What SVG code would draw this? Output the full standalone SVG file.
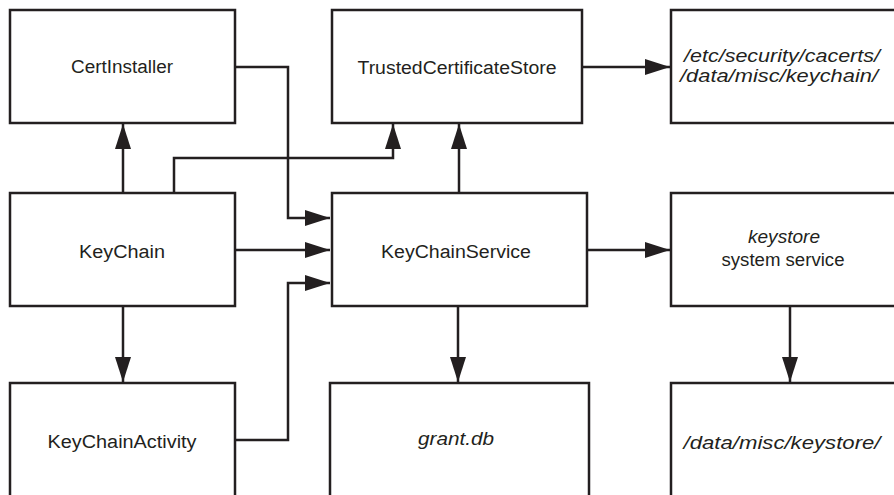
<svg xmlns="http://www.w3.org/2000/svg" width="894" height="495" viewBox="0 0 894 495">
<defs>
<style>
.box{fill:#fff;stroke:#231f20;stroke-width:2.5}
.lbl{font-family:"Liberation Sans","DejaVu Sans",sans-serif;font-size:18px;fill:#231f20;text-anchor:middle}
.it{font-style:italic}
.con{fill:none;stroke:#231f20;stroke-width:2.5;marker-end:url(#ah)}
</style>
<marker id="ah" markerUnits="userSpaceOnUse" markerWidth="26" markerHeight="16" refX="25" refY="8" orient="auto">
<path d="M0,0 L25,8 L0,16 z" fill="#231f20"/>
</marker>
</defs>
<rect width="894" height="495" fill="#fff"/>
<g id="connectors">
<polyline class="con" points="235,67 288,67 288,218 330,218"/>
<polyline class="con" points="235,250 330,250"/>
<polyline class="con" points="235,440 288,440 288,283 330,283"/>
<polyline class="con" points="123,193 123,124"/>
<polyline class="con" points="174,193 174,158 393,158 393,124"/>
<polyline class="con" points="459,193 459,124"/>
<polyline class="con" points="582,67 670,67"/>
<polyline class="con" points="587,250 670,250"/>
<polyline class="con" points="458,306 458,382"/>
<polyline class="con" points="790,306 790,382"/>
<polyline class="con" points="123,306 123,382"/>
</g>
<g id="certinstaller">
<rect class="box" x="10" y="10" width="225" height="113"/>
<text class="lbl" x="122" y="73" textLength="102" lengthAdjust="spacingAndGlyphs">CertInstaller</text>
</g>
<g id="trustedcertificatestore">
<rect class="box" x="332" y="10" width="250" height="113"/>
<text class="lbl" x="457" y="74" textLength="199" lengthAdjust="spacingAndGlyphs">TrustedCertificateStore</text>
</g>
<g id="cacerts">
<rect class="box" x="671" y="10" width="240" height="113"/>
<text class="lbl it" x="782" y="62" textLength="196" lengthAdjust="spacingAndGlyphs">/etc/security/cacerts/</text>
<text class="lbl it" x="779" y="82" textLength="198" lengthAdjust="spacingAndGlyphs">/data/misc/keychain/</text>
</g>
<g id="keychain">
<rect class="box" x="10" y="193" width="225" height="113"/>
<text class="lbl" x="122" y="258" textLength="86" lengthAdjust="spacingAndGlyphs">KeyChain</text>
</g>
<g id="keychainservice">
<rect class="box" x="332" y="193" width="255" height="113"/>
<text class="lbl" x="456" y="258" textLength="150" lengthAdjust="spacingAndGlyphs">KeyChainService</text>
</g>
<g id="keystore">
<rect class="box" x="671" y="193" width="240" height="113"/>
<text class="lbl it" x="784" y="243" textLength="72" lengthAdjust="spacingAndGlyphs">keystore</text>
<text class="lbl" x="783" y="266" textLength="123" lengthAdjust="spacingAndGlyphs">system service</text>
</g>
<g id="keychainactivity">
<rect class="box" x="10" y="383" width="225" height="130"/>
<text class="lbl" x="122" y="448" textLength="149" lengthAdjust="spacingAndGlyphs">KeyChainActivity</text>
</g>
<g id="grantdb">
<rect class="box" x="330" y="383" width="259" height="130"/>
<text class="lbl it" x="456" y="445" textLength="76" lengthAdjust="spacingAndGlyphs">grant.db</text>
</g>
<g id="datamisckeystore">
<rect class="box" x="671" y="383" width="240" height="130"/>
<text class="lbl it" x="782" y="449" textLength="197" lengthAdjust="spacingAndGlyphs">/data/misc/keystore/</text>
</g>
</svg>
